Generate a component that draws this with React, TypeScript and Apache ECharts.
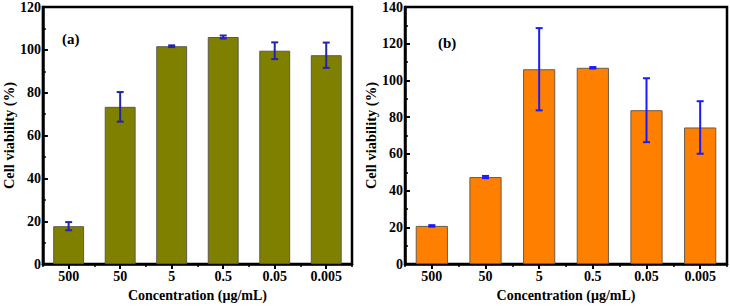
import React, { useEffect, useRef } from "react";
import * as echarts from "echarts";

// Concentration levels (µg/mL) shared by both panels
const concentrations = ["500", "50", "5", "0.5", "0.05", "0.005"];

// Panel (a): mean cell viability (%) and standard deviation
const viabilityA = [17.7, 73.4, 101.7, 106.0, 99.6, 97.5];
const errorA = [1.9, 6.9, 0.4, 0.7, 3.9, 5.9];

// Panel (b): mean cell viability (%) and standard deviation
const viabilityB = [20.8, 47.4, 106.1, 106.9, 83.8, 74.4];
const errorB = [0.4, 0.6, 22.4, 0.4, 17.4, 14.3];

const yTicksA = { min: 0, max: 120, interval: 20 };
const yTicksB = { min: 0, max: 140, interval: 20 };

const FONT = "'Liberation Serif', 'Times New Roman', serif";

function errorSeries(gridIdx: number, means: number[], errs: number[], color: string) {
  return {
    type: "custom",
    xAxisIndex: gridIdx * 2,
    yAxisIndex: gridIdx,
    z: 5,
    data: means.map((m, i) => [i, m, errs[i]]),
    renderItem: (params: any, api: any) => {
      const x = api.value(0);
      const m = api.value(1);
      const e = api.value(2);
      const hi = api.coord([x, m + e]);
      const lo = api.coord([x, m - e]);
      const half = 3.5;
      const style = { stroke: color, lineWidth: 2 };
      return {
        type: "group",
        children: [
          { type: "line", shape: { x1: hi[0], y1: hi[1], x2: lo[0], y2: lo[1] }, style },
          { type: "line", shape: { x1: hi[0] - half, y1: hi[1], x2: hi[0] + half, y2: hi[1] }, style },
          { type: "line", shape: { x1: lo[0] - half, y1: lo[1], x2: lo[0] + half, y2: lo[1] }, style },
        ],
      };
    },
  };
}

function xAxes(gridIndex: number, nameGap: number) {
  return [
    {
      type: "category",
      gridIndex,
      data: concentrations,
      name: "Concentration (μg/mL)",
      nameLocation: "middle",
      nameGap,
      nameTextStyle: { fontFamily: FONT, fontWeight: "bold", fontSize: 14, color: "#000" },
      axisLine: { show: true, lineStyle: { color: "#000", width: 2.5 } },
      axisTick: { show: true, alignWithLabel: true, inside: false, length: 5, lineStyle: { color: "#000", width: 2 } },
      axisLabel: { fontFamily: FONT, fontWeight: "bold", fontSize: 14, color: "#000", margin: 5 },
      splitLine: { show: false },
    },
    {
      // boundary ticks between categories
      type: "category",
      gridIndex,
      data: concentrations,
      position: "bottom",
      axisLine: { show: false },
      axisTick: { show: true, alignWithLabel: false, inside: false, length: 3, lineStyle: { color: "#000", width: 1.5 } },
      axisLabel: { show: false },
      splitLine: { show: false },
    },
  ];
}

function yAxis(gridIndex: number, ticks: { min: number; max: number; interval: number }, nameGap: number) {
  return {
    type: "value",
    gridIndex,
    min: ticks.min,
    max: ticks.max,
    interval: ticks.interval,
    name: "Cell viability (%)",
    nameLocation: "middle",
    nameGap,
    nameTextStyle: { fontFamily: FONT, fontWeight: "bold", fontSize: 14.5, color: "#000" },
    axisLine: { show: true, lineStyle: { color: "#000", width: 2.5 } },
    axisTick: { show: true, inside: true, length: 5, lineStyle: { color: "#000", width: 2 } },
    minorTick: { show: true, splitNumber: 2, length: 3, lineStyle: { color: "#000", width: 1.5 } },
    axisLabel: { fontFamily: FONT, fontWeight: "bold", fontSize: 14, color: "#000", margin: 2 },
    splitLine: { show: false },
  };
}

export default function App() {
  const ref = useRef<HTMLDivElement>(null);

  useEffect(() => {
    if (!ref.current) return;
    const chart = echarts.init(ref.current, undefined, { renderer: "svg" });
    chart.setOption({
      animation: false,
      backgroundColor: "#fff",
      grid: [
        { left: 33, top: 6, width: 319, height: 260, show: true, borderColor: "#000", borderWidth: 2.5, backgroundColor: "transparent" },
        { left: 405, top: 5, width: 322, height: 263, show: true, borderColor: "#000", borderWidth: 2.5, backgroundColor: "transparent" },
      ],
      xAxis: [...xAxes(0, 22), ...xAxes(1, 21)],
      yAxis: [yAxis(0, yTicksA, 20), yAxis(1, yTicksB, 25)],
      series: [
        {
          type: "bar",
          xAxisIndex: 0,
          yAxisIndex: 0,
          data: viabilityA,
          barWidth: "60%",
          itemStyle: { color: "#808000", borderColor: "#5a5a50", borderWidth: 1 },
        },
        errorSeries(0, viabilityA, errorA, "#2424a8"),
        {
          type: "bar",
          xAxisIndex: 2,
          yAxisIndex: 1,
          data: viabilityB,
          barWidth: "60%",
          itemStyle: { color: "#ff8000", borderColor: "#6a5a4a", borderWidth: 1 },
        },
        errorSeries(1, viabilityB, errorB, "#1a1aff"),
      ],
      graphic: [
        {
          type: "text",
          left: 62,
          top: 31,
          style: { text: "(a)", fontFamily: FONT, fontWeight: "bold", fontSize: 15, fill: "#000" },
        },
        {
          type: "text",
          left: 438,
          top: 35,
          style: { text: "(b)", fontFamily: FONT, fontWeight: "bold", fontSize: 15, fill: "#000" },
        },
      ],
    });
    return () => chart.dispose();
  }, []);

  return (
    <div
      ref={ref}
      style={{ position: "absolute", left: 0, top: 0, width: 730, height: 307 }}
    />
  );
}
